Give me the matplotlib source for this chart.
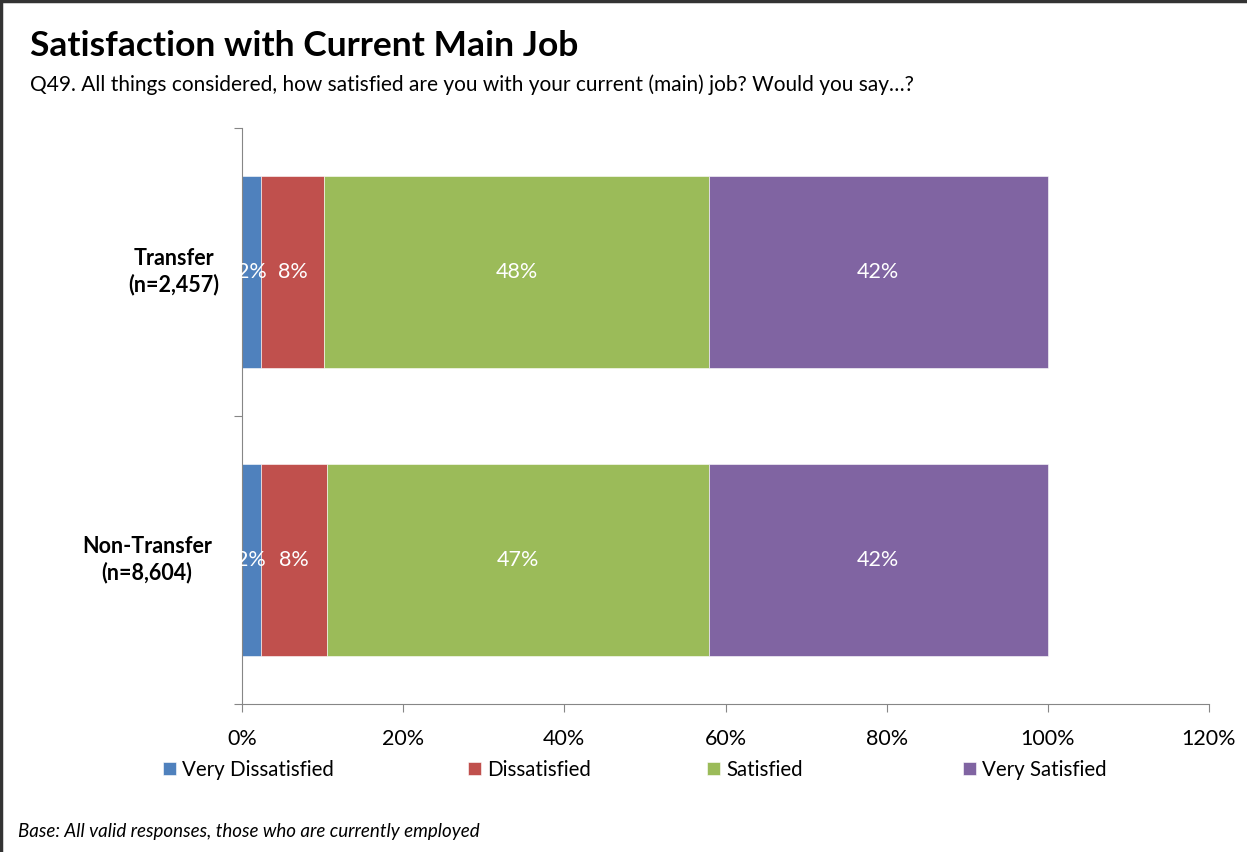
import numpy as np
import matplotlib.pyplot as plt
from matplotlib.lines import Line2D
from matplotlib.transforms import blended_transform_factory

plt.rcParams['font.family'] = ['Lato', 'DejaVu Sans']

groups = ["Non-Transfer\n(n=8,604)", "Transfer\n(n=2,457)"]
group_x = [147, 174]  # label centres in pixels
series = ["Very Dissatisfied", "Dissatisfied", "Satisfied", "Very Satisfied"]
colors = ["#4f81bd", "#c0504d", "#9bbb59", "#8064a2"]
# values in %, bottom group first
very_dis = [2.3, 2.4]
dis = [8.2, 7.8]
sat = [47.4, 47.7]
very_sat = [42.1, 42.1]
labels = [["2%", "2%"], ["8%", "8%"], ["47%", "48%"], ["42%", "42%"]]
legend_x = [163, 468, 707, 963]

W, H = 1247, 852
fig = plt.figure(figsize=(W/100, H/100), dpi=100)
ax = fig.add_axes([242/W, 1 - 704/H, (1209-242)/W, 576/H])

y = np.arange(len(groups))
left = np.zeros(len(groups))
handles = []
for name, vals, c, labs in zip(series, [very_dis, dis, sat, very_sat], colors, labels):
    vals = np.array(vals)
    bars = ax.barh(y, vals, left=left, height=0.67, color=c, label=name,
                   edgecolor="white", linewidth=0.4)
    handles.append(bars)
    for yi, l, v, t in zip(y, left, vals, labs):
        ax.text(l + v/2, yi, t, ha="center", va="center", color="white", fontsize=15.5)
    left += vals

ax.set_xlim(0, 120)
ax.set_ylim(-0.5, 1.5)
ax.set_xticks(np.arange(0, 121, 20))
ax.set_xticklabels([f"{v}%" for v in range(0, 121, 20)])
ax.set_yticks([-0.5, 0.5, 1.5])
ax.set_yticklabels([])
ax.tick_params(axis="y", length=6, color="#868686")
ax.tick_params(axis="x", length=6, color="#868686", labelsize=15.5, pad=12)
for s in ["top", "right"]:
    ax.spines[s].set_visible(False)
for s in ["left", "bottom"]:
    ax.spines[s].set_color("#868686")

trans = blended_transform_factory(fig.transFigure, ax.transData)
for g, gx, yi in zip(groups, group_x, y):
    ax.text(gx/W, yi, g, transform=trans, ha="center", va="center", multialignment="center",
            fontsize=15.5, fontweight="bold", linespacing=1.25)

fig.text(30/W, 1 - 46/H, "Satisfaction with Current Main Job", fontsize=25.5,
         fontweight="bold", va="center")
fig.text(30/W, 1 - 85/H,
         "Q49. All things considered, how satisfied are you with your current (main) job? Would you say\u2026?",
         fontsize=15, va="center")
fig.text(18/W, 1 - 832/H, "Base: All valid responses, those who are currently employed",
         fontsize=13.5, style="italic", va="center")

for h, name, lx in zip(handles, series, legend_x):
    leg = fig.legend(handles=[h], labels=[name], loc="center left",
                     bbox_to_anchor=(lx/W, 1 - 770/H), frameon=False, fontsize=14.8,
                     handlelength=0.62, handleheight=0.62, handletextpad=0.3,
                     borderpad=0, borderaxespad=0)

fig.add_artist(Line2D([0.001, 0.001], [0, 1], color="#333333", lw=2.5))
fig.add_artist(Line2D([0, 1], [0.999, 0.999], color="#333333", lw=2.5))

fig.savefig("out.png", dpi=100)
